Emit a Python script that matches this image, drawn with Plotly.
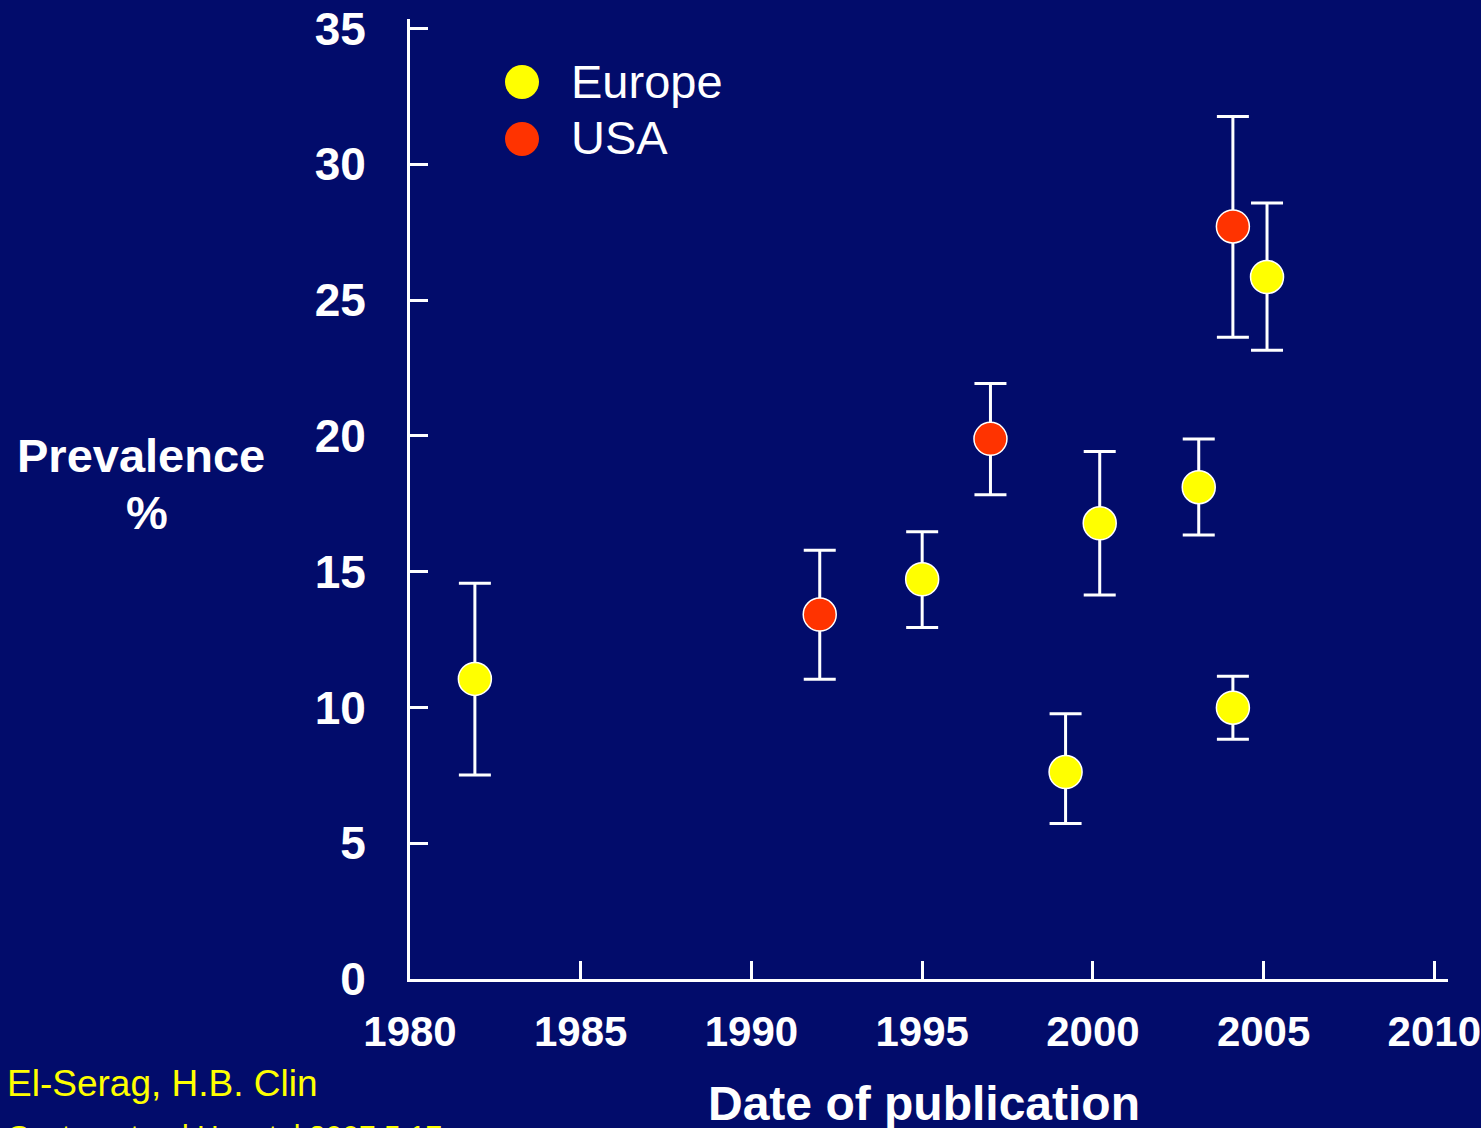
import plotly.graph_objects as go

# ---- data ----
europe_year = [1981.9, 1995.0, 1999.2, 2000.2, 2003.1, 2004.1, 2005.1]
europe_prev = [11.05, 14.72, 7.62, 16.78, 18.11, 9.99, 25.85]
europe_hi = [14.57, 16.47, 9.77, 19.42, 19.88, 11.15, 28.57]
europe_lo = [7.51, 12.94, 5.73, 14.14, 16.35, 8.83, 23.15]

usa_year = [1992.0, 1997.0, 2004.1]
usa_prev = [13.42, 19.89, 27.71]
usa_hi = [15.79, 21.93, 31.76]
usa_lo = [11.04, 17.83, 23.63]

x_ticks = [1980, 1985, 1990, 1995, 2000, 2005, 2010]
y_ticks = [0, 5, 10, 15, 20, 25, 30, 35]

BG = "#020C6B"
YELLOW = "#FFFF00"
RED = "#FF3300"
FONT = "Arial, Liberation Sans, sans-serif"

W, H = 1481, 1128
L, R, T, B = 410, 33, 19, 149
PW, PH = W - L - R, H - T - B


def px(x):
    return (x - L) / PW


def py(y):
    return (H - B - y) / PH


def series(xs, ys, hi, lo, color, name):
    return go.Scatter(
        x=xs, y=ys, mode="markers", name=name, showlegend=False,
        marker=dict(size=33, color=color, line=dict(color="white", width=1.5)),
        error_y=dict(type="data", symmetric=False,
                     array=[h - v for h, v in zip(hi, ys)],
                     arrayminus=[v - l for l, v in zip(lo, ys)],
                     color="white", thickness=3, width=16),
        cliponaxis=False,
    )


fig = go.Figure()
fig.add_trace(series(europe_year, europe_prev, europe_hi, europe_lo, YELLOW, "Europe"))
fig.add_trace(series(usa_year, usa_prev, usa_hi, usa_lo, RED, "USA"))

axis_common = dict(showline=True, linecolor="white", linewidth=3, ticks="inside",
                   ticklen=18, tickwidth=3, tickcolor="white", showgrid=False,
                   zeroline=False, ticklabeloverflow="allow", automargin=False)

fig.update_xaxes(range=[1980, 2010.4], tickvals=x_ticks, ticktext=[str(v) for v in x_ticks],
                 tickfont=dict(family=FONT, size=42, color="white", weight="bold"),
                 ticklabelstandoff=14, **axis_common)
fig.update_yaxes(range=[0, 35.35], tickvals=y_ticks, ticktext=[str(v) for v in y_ticks],
                 tickfont=dict(family=FONT, size=46, color="white", weight="bold"),
                 ticklabelstandoff=32, **axis_common)


def ann(text, x, y, size, color="white", bold=False, xanchor="center", yanchor="middle"):
    f = dict(family=FONT, size=size, color=color)
    if bold:
        f["weight"] = "bold"
    return dict(text=text, x=px(x), y=py(y), xref="paper", yref="paper",
                xanchor=xanchor, yanchor=yanchor, showarrow=False, font=f)


annotations = [
    ann("Prevalence", 141, 455, 47, bold=True),
    ann("%", 147, 512, 47, bold=True),
    ann("Date of publication", 924, 1103, 48, bold=True),
    ann("Europe", 569, 81, 47, xanchor="left"),
    ann("USA", 569, 138, 47, xanchor="left"),
    ann("El-Serag, H.B. Clin", 5, 1083, 37, color=YELLOW, xanchor="left"),
    ann("Gastroenterol Hepatol 2007;5:17", 5, 1117, 30, color=YELLOW,
        xanchor="left", yanchor="top"),
]

shapes = []
for cy, col in [(82, YELLOW), (139, RED)]:
    shapes.append(dict(type="circle", xref="paper", yref="paper",
                       xsizemode="pixel", ysizemode="pixel",
                       xanchor=px(522), yanchor=py(cy),
                       x0=-17, x1=17, y0=-17, y1=17,
                       fillcolor=col, line=dict(width=0)))

fig.update_layout(
    width=W, height=H, autosize=False,
    paper_bgcolor=BG, plot_bgcolor=BG,
    margin=dict(l=L, r=R, t=T, b=B, pad=0, autoexpand=False),
    annotations=annotations, shapes=shapes,
    showlegend=False,
)

fig.write_html(
    "out.html",
    config={"displayModeBar": False},
    post_script="document.body.style.margin='0';document.body.style.overflow='hidden';"
                "document.body.style.background='" + BG + "';",
)
